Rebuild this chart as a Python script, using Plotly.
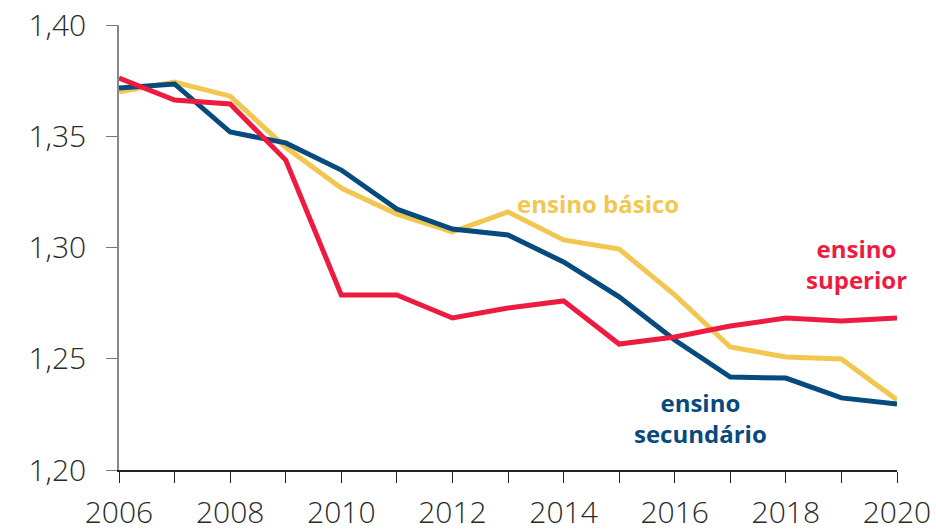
import plotly.graph_objects as go

years = list(range(2006, 2021))
basico = [1.370, 1.3744, 1.368, 1.345, 1.3267, 1.315, 1.307, 1.316, 1.3034, 1.2993, 1.2787, 1.2553, 1.2508, 1.2499, 1.2315]
secundario = [1.3717, 1.3735, 1.3519, 1.347, 1.3348, 1.3173, 1.3083, 1.3056, 1.2935, 1.2778, 1.2584, 1.2418, 1.2413, 1.2324, 1.2297]
superior = [1.3762, 1.3663, 1.3645, 1.3393, 1.2787, 1.2787, 1.2683, 1.2728, 1.276, 1.2566, 1.2598, 1.2647, 1.2683, 1.267, 1.2683]

y_ticks = [1.20, 1.25, 1.30, 1.35, 1.40]
x_ticklabels = [str(y) if y % 2 == 0 else "" for y in years]

YELLOW = "#F2C750"
BLUE = "#064A7E"
RED = "#EE1B41"

fig = go.Figure()
for vals, col in [(basico, YELLOW), (secundario, BLUE), (superior, RED)]:
    fig.add_trace(go.Scatter(x=years, y=vals, mode="lines",
                             line=dict(color=col, width=5), showlegend=False,
                             hoverinfo="skip", cliponaxis=False))

lab_font = dict(family="Open Sans", size=24, weight="bold")
fig.add_annotation(x=2014.62, y=1.320, text="ensino básico", showarrow=False,
                   font=dict(lab_font, color=YELLOW))
fig.add_annotation(x=2019.28, y=1.2926, text="ensino<br>superior", showarrow=False,
                   font=dict(lab_font, color=RED))
fig.add_annotation(x=2016.46, y=1.2234, text="ensino<br>secundário", showarrow=False,
                   font=dict(lab_font, color=BLUE))

tick_font = dict(family="Open Sans", size=30, color="#2a2a2a", weight=300)
fig.update_xaxes(range=[2006, 2020], tickvals=years, ticktext=x_ticklabels,
                 ticks="outside", ticklen=11, tickcolor="#222222", tickwidth=1,
                 showline=True, linecolor="#222222", linewidth=1.5,
                 showgrid=False, zeroline=False, tickfont=tick_font,
                 ticklabelstandoff=4, automargin=False)
fig.update_yaxes(range=[1.20, 1.40], tickvals=y_ticks, tickformat=".2f",
                 ticks="outside", ticklen=11, tickcolor="#777777", tickwidth=1,
                 showline=True, linecolor="#888888", linewidth=1.5,
                 showgrid=False, zeroline=False, tickfont=tick_font,
                 ticklabelstandoff=14, automargin=False)
fig.update_layout(width=936, height=532, separators=", ",
                  margin=dict(l=119, r=39, t=25, b=62),
                  plot_bgcolor="white", paper_bgcolor="white")
fig.write_html("out.html", config={"displayModeBar": False},
               post_script="document.body.style.margin='0';document.body.style.overflow='hidden';")
